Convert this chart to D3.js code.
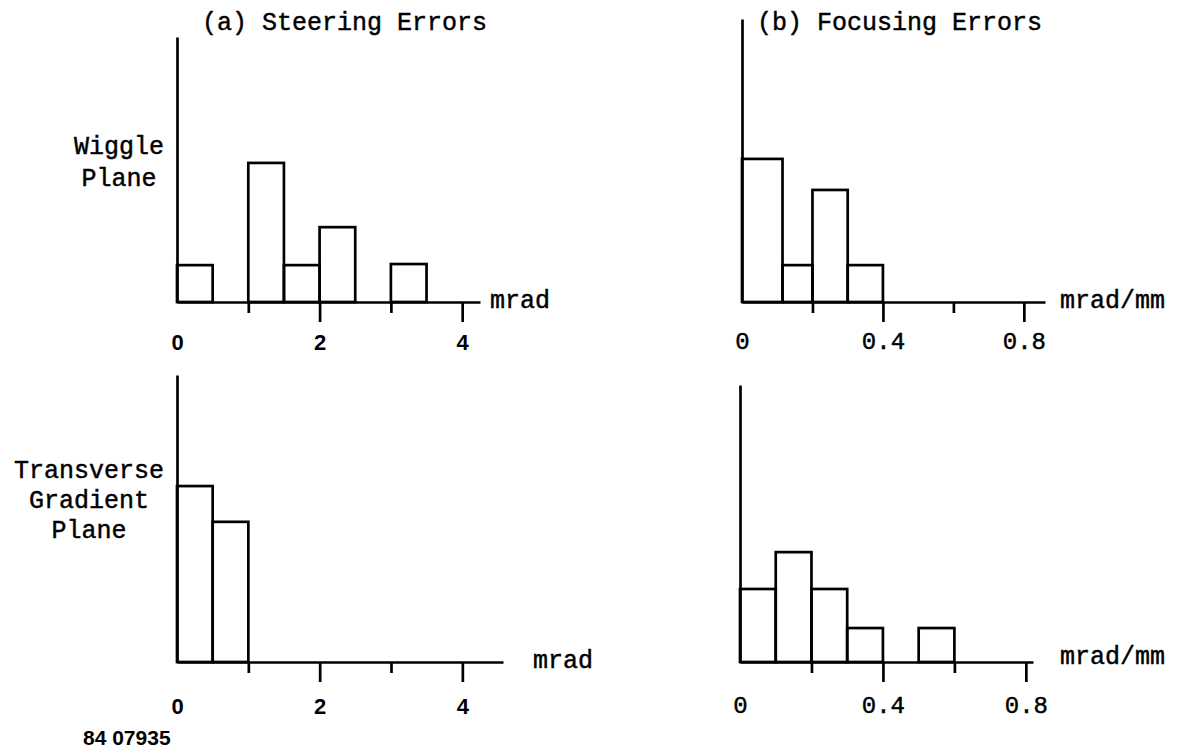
<!DOCTYPE html>
<html>
<head>
<meta charset="utf-8">
<script src="https://cdn.jsdelivr.net/npm/d3@7"></script>
<style>
  html, body { margin: 0; padding: 0; background: #fff; }
  svg { display: block; }
  .mono { font-family: "Liberation Mono", "DejaVu Sans Mono", monospace; fill: #000; stroke: #000; stroke-width: 0.45px; }
  .sans { font-family: "Liberation Sans", Arial, sans-serif; font-weight: bold; fill: #000; }
</style>
</head>
<body>
<script>
// ---- data ----
const steerWiggleEdges   = [0, 0.5, 1, 1.5, 2, 2.5, 3, 3.5];
const steerWiggleCounts  = [1.01, 0, 3.81, 1.01, 2.05, 0, 1.04];
const focusWiggleEdges   = [0, 0.115, 0.2, 0.3, 0.4];
const focusWiggleCounts  = [3.92, 1.01, 3.07, 1.01];
const steerTransEdges    = [0, 0.5, 1];
const steerTransCounts   = [4.82, 3.84];
const focusTransEdges    = [0, 0.1, 0.2, 0.3, 0.4, 0.5, 0.6];
const focusTransCounts   = [2.0, 3.01, 2.0, 0.93, 0, 0.93];

const steerMajorTicks = [0, 2, 4];
const steerMinorTicks = [1, 3];
const focusMajorTicks = [0, 0.4, 0.8];
const focusMinorTicks = [0.2, 0.6];

const columnTitles = ["(a) Steering Errors", "(b) Focusing Errors"];
const rowLabelWiggle = ["Wiggle", "Plane"];
const rowLabelTrans  = ["Transverse", "Gradient", "Plane"];
const steerUnit = "mrad";
const focusUnit = "mrad/mm";
const figureId  = "84 07935";

// ---- drawing ----
const W = 1182, H = 755;
const svg = d3.select("body").append("svg").attr("width", W).attr("height", H);
svg.append("rect").attr("width", W).attr("height", H).attr("fill", "#fff");

const UNIT_PX = 36.5;
const LW = 2.7;

const panels = [
  { edges: steerWiggleEdges, counts: steerWiggleCounts, xd: [0, 4.25], xr: [177, 480], base: 302, top: 37,
    major: steerMajorTicks, minor: steerMinorTicks, fmt: d => String(d), labelCls: "sans", labelSize: 22, pad: 12,
    unit: steerUnit, ux: 490, uy: 308 },
  { edges: focusWiggleEdges, counts: focusWiggleCounts, xd: [0, 0.86], xr: [742, 1045], base: 302, top: 19,
    major: focusMajorTicks, minor: focusMinorTicks, fmt: d => d === 0 ? "0" : d3.format(".1f")(d), labelCls: "mono", labelSize: 24, pad: 10,
    unit: focusUnit, ux: 1060, uy: 308 },
  { edges: steerTransEdges, counts: steerTransCounts, xd: [0, 4.57], xr: [177, 503], base: 662, top: 375,
    major: steerMajorTicks, minor: steerMinorTicks, fmt: d => String(d), labelCls: "sans", labelSize: 22, pad: 16,
    unit: steerUnit, ux: 533, uy: 668 },
  { edges: focusTransEdges, counts: focusTransCounts, xd: [0, 0.82], xr: [740, 1033], base: 662, top: 385,
    major: focusMajorTicks, minor: focusMinorTicks, fmt: d => d === 0 ? "0" : d3.format(".1f")(d), labelCls: "mono", labelSize: 24, pad: 14,
    unit: focusUnit, ux: 1060, uy: 664 }
];

panels.forEach(p => {
  const x = d3.scaleLinear().domain(p.xd).range(p.xr);
  const yMax = (p.base - p.top) / UNIT_PX;
  const y = d3.scaleLinear().domain([0, yMax]).range([p.base, p.top]);
  const g = svg.append("g");

  // bars
  const bins = p.counts.map((c, i) => ({ x0: p.edges[i], x1: p.edges[i + 1], c })).filter(b => b.c > 0);
  g.selectAll("rect.bar").data(bins).enter().append("rect")
    .attr("class", "bar")
    .attr("x", d => x(d.x0))
    .attr("y", d => y(d.c))
    .attr("width", d => x(d.x1) - x(d.x0))
    .attr("height", d => y(0) - y(d.c))
    .attr("fill", "none")
    .attr("stroke", "#000")
    .attr("stroke-width", LW);

  // minor ticks
  const minorAxis = d3.axisBottom(x).tickValues(p.minor).tickSize(11).tickSizeOuter(0).tickFormat("");
  const gm = g.append("g").attr("transform", `translate(0,${p.base})`).call(minorAxis);
  gm.select(".domain").remove();
  gm.selectAll("line").attr("stroke", "#000").attr("stroke-width", LW);

  // major ticks + labels + baseline
  const majorAxis = d3.axisBottom(x).tickValues(p.major).tickSize(20).tickSizeOuter(0)
    .tickPadding(p.pad).tickFormat(p.fmt);
  const ga = g.append("g").attr("transform", `translate(0,${p.base})`).call(majorAxis);
  ga.select(".domain").attr("stroke", "#000").attr("stroke-width", LW);
  ga.selectAll(".tick line").attr("stroke", "#000").attr("stroke-width", LW)
    .attr("y2", d => d === 0 ? 0 : 20);
  ga.selectAll(".tick text")
    .attr("class", p.labelCls)
    .attr("font-size", p.labelSize)
    .attr("fill", "#000");
  ga.attr("font-family", null).attr("font-size", null);

  // vertical axis
  const yAxis = d3.axisLeft(y).tickValues([]).tickSizeOuter(0);
  const gy = g.append("g").attr("transform", `translate(${x(0)},0)`).call(yAxis);
  gy.select(".domain").attr("stroke", "#000").attr("stroke-width", LW);

  // unit label
  g.append("text").attr("class", "mono").attr("x", p.ux).attr("y", p.uy)
    .attr("font-size", 25).text(p.unit);
});

// column titles
svg.append("text").attr("class", "mono").attr("x", 202).attr("y", 30).attr("font-size", 25).text(columnTitles[0]);
svg.append("text").attr("class", "mono").attr("x", 757).attr("y", 30).attr("font-size", 25).text(columnTitles[1]);

// row labels
svg.append("text").attr("class", "mono").attr("text-anchor", "middle").attr("font-size", 25)
  .selectAll("tspan").data(rowLabelWiggle).enter().append("tspan")
  .attr("x", 119).attr("y", (d, i) => 154 + i * 32).text(d => d);
svg.append("text").attr("class", "mono").attr("text-anchor", "middle").attr("font-size", 25)
  .selectAll("tspan").data(rowLabelTrans).enter().append("tspan")
  .attr("x", 89).attr("y", (d, i) => 478 + i * 30).text(d => d);

// figure id
svg.append("text").attr("class", "sans").attr("x", 83).attr("y", 745).attr("font-size", 21).text(figureId);
</script>
</body>
</html>
